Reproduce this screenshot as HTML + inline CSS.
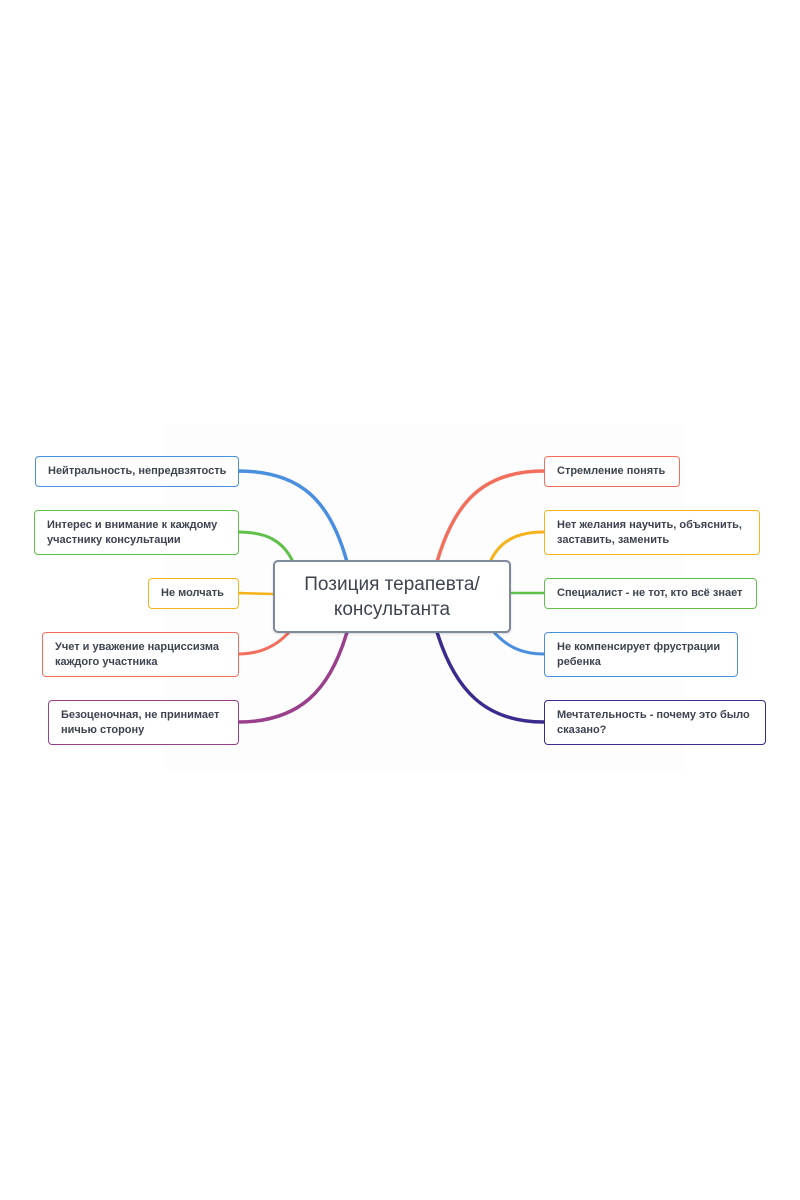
<!DOCTYPE html>
<html><head><meta charset="utf-8"><style>
html,body{margin:0;padding:0;background:#fff;}
body{width:800px;height:1200px;position:relative;overflow:hidden;font-family:"Liberation Sans","DejaVu Sans",sans-serif;}
.b{position:absolute;box-sizing:border-box;border:1.5px solid;border-radius:4px;background:#fff;color:#3d4450;font-size:11px;font-weight:bold;line-height:15px;padding:0 12px;display:flex;align-items:center;white-space:nowrap;}
</style></head><body>
<div style="position:absolute;left:165px;top:425px;width:520px;height:345px;background:#fdfdfd"></div>
<svg width="800" height="1200" style="position:absolute;left:0;top:0" fill="none" stroke-linecap="round">
<path d="M238 471 C300 471 330 500 347 562" stroke="#4a8fdf" stroke-width="3.5"/>
<path d="M238 532 C265 532 283 540 293 562" stroke="#5fc14c" stroke-width="3"/>
<path d="M238 593 L273 594" stroke="#f6b21a" stroke-width="2.5"/>
<path d="M238 654 C262 654 278 645 290 631" stroke="#f36f5d" stroke-width="3"/>
<path d="M238 722 C300 722 330 690 347 632" stroke="#9a3f8c" stroke-width="3.5"/>
<path d="M544 471 C485 471 455 500 437 562" stroke="#f36f5d" stroke-width="3.5"/>
<path d="M544 532 C518 532 500 540 490 562" stroke="#f6b21a" stroke-width="3"/>
<path d="M510 593 L544 593" stroke="#5fc14c" stroke-width="2.5"/>
<path d="M544 654 C520 654 505 645 493 631" stroke="#4a8fdf" stroke-width="3"/>
<path d="M544 722 C485 722 455 690 437 632" stroke="#3b2b8e" stroke-width="3.5"/>
</svg>
<div class="b" style="left:35px;top:456px;width:204px;height:31px;border-color:#4a8fdf"><span>Нейтральность, непредвзятость</span></div>
<div class="b" style="left:34px;top:510px;width:205px;height:45px;border-color:#5fc14c"><span>Интерес и внимание к каждому<br>участнику консультации</span></div>
<div class="b" style="left:148px;top:578px;width:91px;height:31px;border-color:#f6b21a"><span>Не молчать</span></div>
<div class="b" style="left:42px;top:632px;width:197px;height:45px;border-color:#f36f5d"><span>Учет и уважение нарциссизма<br>каждого участника</span></div>
<div class="b" style="left:48px;top:700px;width:191px;height:45px;border-color:#9a3f8c"><span>Безоценочная, не принимает<br>ничью сторону</span></div>
<div class="b" style="left:544px;top:456px;width:136px;height:31px;border-color:#f36f5d"><span>Стремление понять</span></div>
<div class="b" style="left:544px;top:510px;width:216px;height:45px;border-color:#f6b21a"><span>Нет желания научить, объяснить,<br>заставить, заменить</span></div>
<div class="b" style="left:544px;top:578px;width:213px;height:31px;border-color:#5fc14c"><span>Специалист - не тот, кто всё знает</span></div>
<div class="b" style="left:544px;top:632px;width:194px;height:45px;border-color:#4a8fdf"><span>Не компенсирует фрустрации<br>ребенка</span></div>
<div class="b" style="left:544px;top:700px;width:222px;height:45px;border-color:#3b2b8e"><span>Мечтательность - почему это было<br>сказано?</span></div>
<div class="b" style="left:273px;top:560px;width:238px;height:73px;border:2px solid #7f8a9c;border-radius:5px;font-size:19px;line-height:25px;font-weight:normal;justify-content:center;text-align:center;color:#3d4450;box-shadow:0 1px 2px rgba(0,0,0,.15)"><span>Позиция терапевта/<br>консультанта</span></div>
</body></html>
